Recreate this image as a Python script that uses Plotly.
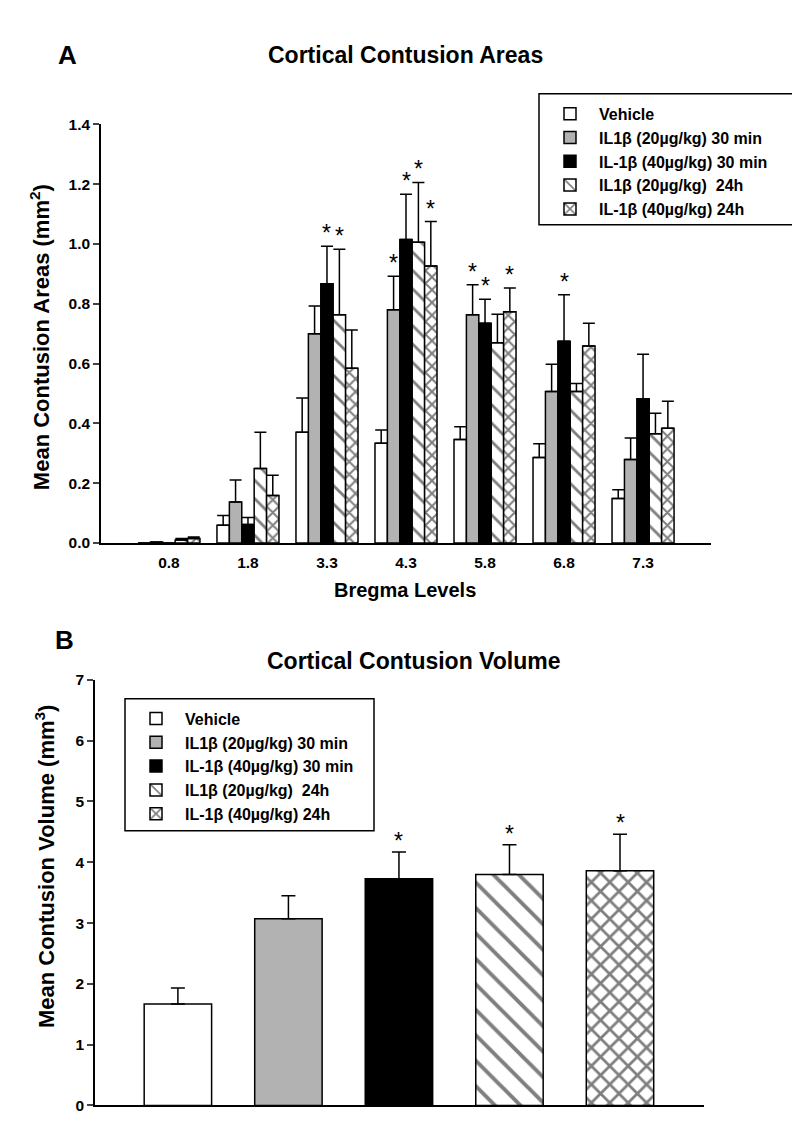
import plotly.graph_objects as go

# Panel A - contusion areas per bregma level (mean, upward SEM)
levels = ["0.8", "1.8", "3.3", "4.3", "5.8", "6.8", "7.3"]

series_names = [
    "Vehicle",
    "IL1β (20µg/kg) 30 min",
    "IL-1β (40µg/kg) 30 min",
    "IL1β (20µg/kg)  24h",
    "IL-1β (40µg/kg) 24h",
]

vehicle_area = [0.0, 0.059, 0.370, 0.334, 0.346, 0.286, 0.149]
vehicle_err = [0.0, 0.033, 0.115, 0.044, 0.043, 0.046, 0.029]
il20_30_area = [0.003, 0.137, 0.700, 0.780, 0.763, 0.507, 0.279]
il20_30_err = [0.0, 0.074, 0.093, 0.112, 0.101, 0.091, 0.072]
il40_30_area = [0.0, 0.062, 0.867, 1.015, 0.735, 0.675, 0.482]
il40_30_err = [0.0, 0.023, 0.125, 0.151, 0.080, 0.155, 0.149]
il20_24_area = [0.010, 0.249, 0.763, 1.006, 0.670, 0.507, 0.365]
il20_24_err = [0.005, 0.121, 0.219, 0.200, 0.095, 0.026, 0.069]
il40_24_area = [0.015, 0.159, 0.584, 0.926, 0.773, 0.659, 0.384]
il40_24_err = [0.005, 0.068, 0.128, 0.149, 0.080, 0.076, 0.090]

# significance markers (1 = asterisk above the bar)
vehicle_sig = [0, 0, 0, 0, 0, 0, 0]
il20_30_sig = [0, 0, 0, 1, 1, 0, 0]
il40_30_sig = [0, 0, 1, 1, 1, 1, 0]
il20_24_sig = [0, 0, 1, 1, 0, 0, 0]
il40_24_sig = [0, 0, 0, 1, 1, 0, 0]

# Panel B - total contusion volume
volume = [1.67, 3.07, 3.73, 3.80, 3.86]
volume_err = [0.26, 0.38, 0.44, 0.49, 0.60]
volume_sig = [0, 0, 1, 1, 1]

areas = [vehicle_area, il20_30_area, il40_30_area, il20_24_area, il40_24_area]
area_errs = [vehicle_err, il20_30_err, il40_30_err, il20_24_err, il40_24_err]
area_sigs = [vehicle_sig, il20_30_sig, il40_30_sig, il20_24_sig, il40_24_sig]

FONT = "Liberation Sans, Arial, sans-serif"
W, H = 800, 1135

def px(x):
    return x / W

def py(y):
    return 1 - y / H

# fill / pattern per series: (colour, pattern shape, size A, size B, solidity A, solidity B)
styles = [
    ("white", "", 8, 8, 0.2, 0.2),
    ("#b2b2b2", "", 8, 8, 0.2, 0.2),
    ("black", "", 8, 8, 0.2, 0.2),
    ("white", "\\", 13, 18, 0.22, 0.22),
    ("white", "x", 9, 13, 0.4, 0.38),
]

BARGAP_A = 0.215
bar_w = (1 - BARGAP_A) / len(series_names)

fig = go.Figure()

for k, name in enumerate(series_names):
    col, shp, sa, sb, sola, solb = styles[k]
    fig.add_trace(go.Bar(
        x=levels, y=areas[k], name=name,
        xaxis="x", yaxis="y", legend="legend",
        marker=dict(color=col, line=dict(color="black", width=1.5),
                    pattern=dict(shape=shp, fgcolor="black", bgcolor="white",
                                 size=sa, solidity=sola)),
        error_y=dict(type="data", symmetric=False, array=area_errs[k],
                     arrayminus=[0] * len(levels), color="black", thickness=1.5, width=6),
        hoverinfo="skip",
    ))

for k, name in enumerate(series_names):
    col, shp, sa, sb, sola, solb = styles[k]
    fig.add_trace(go.Bar(
        x=[name], y=[volume[k]], name=name, width=0.61, offset=-0.305,
        xaxis="x2", yaxis="y2", legend="legend2",
        marker=dict(color=col, line=dict(color="black", width=1.5),
                    pattern=dict(shape=shp, fgcolor="black", bgcolor="white",
                                 size=sb, solidity=solb)),
        error_y=dict(type="data", symmetric=False, array=[volume_err[k]],
                     arrayminus=[0], color="black", thickness=1.5, width=7),
        hoverinfo="skip",
    ))

annotations = []
star_font = dict(family=FONT, size=23, color="black")

# asterisks, panel A
for k in range(len(series_names)):
    for j, lv in enumerate(levels):
        if area_sigs[k][j]:
            annotations.append(dict(
                x=j + (k - 2) * bar_w, y=areas[k][j] + area_errs[k][j],
                xref="x", yref="y", text="*", showarrow=False,
                xanchor="center", yanchor="bottom", yshift=-2, font=star_font))

# asterisks, panel B
for k, name in enumerate(series_names):
    if volume_sig[k]:
        annotations.append(dict(
            x=name, y=volume[k] + volume_err[k], xref="x2", yref="y2",
            text="*", showarrow=False, xanchor="center", yanchor="bottom",
            yshift=-4, font=star_font))

bold = dict(family=FONT, color="black", weight="bold")

labels = [
    dict(x=px(59), y=py(39), text="A", font=dict(bold, size=26)),
    dict(x=px(397), y=py(39), text="Cortical Contusion Areas", font=dict(bold, size=23)),
    dict(x=px(397), y=py(582), text="Bregma Levels", font=dict(bold, size=20)),
    dict(x=px(32), y=py(325), text="Mean Contusion Areas (mm<sup>2</sup>)",
         textangle=-90, font=dict(bold, size=22)),
    dict(x=px(57), y=py(632), text="B", font=dict(bold, size=26)),
    dict(x=px(405), y=py(654), text="Cortical Contusion Volume", font=dict(bold, size=23)),
    dict(x=px(37), y=py(862), text="Mean Contusion Volume (mm<sup>3</sup>)",
         textangle=-90, font=dict(bold, size=22)),
]
for a in labels:
    a.update(xref="paper", yref="paper", showarrow=False,
             xanchor="center", yanchor="middle")
annotations += labels

# legend frames
shapes = [
    dict(type="rect", xref="paper", yref="paper", x0=px(531), x1=px(787),
         y0=py(211), y1=py(78), line=dict(color="black", width=1.5)),
    dict(type="rect", xref="paper", yref="paper", x0=px(117), x1=px(366),
         y0=py(826), y1=py(692), line=dict(color="black", width=1.5)),
]

axis_common = dict(showline=True, linecolor="black", linewidth=1.5, showgrid=False,
                   zeroline=False, tickfont=dict(bold, size=15.5))

legend_common = dict(xanchor="left", yanchor="top", bgcolor="rgba(0,0,0,0)",
                     borderwidth=0, font=dict(bold, size=16),
                     itemwidth=48, traceorder="normal")

fig.update_layout(
    width=W, height=H,
    margin=dict(l=0, r=0, t=0, b=0),
    paper_bgcolor="white", plot_bgcolor="white",
    barmode="group", bargap=BARGAP_A, bargroupgap=0,
    xaxis=dict(axis_common, domain=[px(93), px(703)], anchor="y",
               type="category", range=[-0.86, 6.86], ticks="", ticklabelstandoff=5),
    yaxis=dict(axis_common, domain=[py(534), py(109)], anchor="x",
               range=[0, 1.4], tickvals=[0, 0.2, 0.4, 0.6, 0.8, 1.0, 1.2, 1.4],
               tickformat=".1f", ticks="outside", ticklen=6, tickwidth=1.5),
    xaxis2=dict(axis_common, domain=[px(87), px(696)], anchor="y2",
                type="category", range=[-0.75, 4.76], ticks="", showticklabels=False),
    yaxis2=dict(axis_common, domain=[py(1105), py(673)], anchor="x2",
                range=[0, 7], dtick=1, ticks="outside", ticklen=6, tickwidth=1.5),
    legend=dict(legend_common, x=px(533), y=py(81)),
    legend2=dict(legend_common, x=px(119), y=py(695)),
    shapes=shapes,
    annotations=annotations,
)

fig.write_html("out.html")
